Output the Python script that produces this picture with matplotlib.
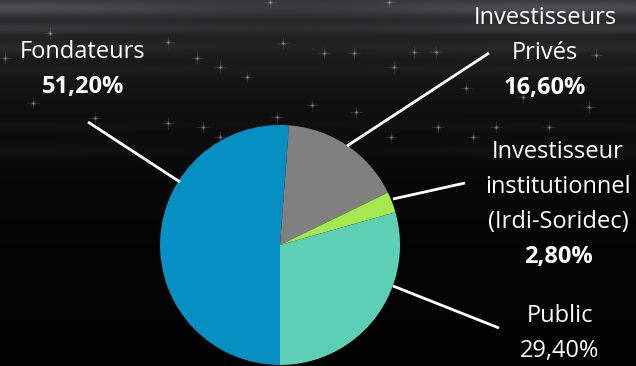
import numpy as np
import matplotlib.pyplot as plt

plt.rcParams['font.family'] = ['Open Sans', 'DejaVu Sans']

# capital split (percent)
categories = ['Fondateurs', 'Investisseurs\nPrivés',
              'Investisseur\ninstitutionnel\n(Irdi-Soridec)', 'Public']
shares = [51.20, 16.60, 2.80, 29.40]
share_labels = ['51,20%', '16,60%', '2,80%', '29,40%']
bold_share = [True, True, True, False]
colors = ['#068fc3', '#808080', '#a6e84f', '#5ccfb4']

W, H = 636, 366
fig = plt.figure(figsize=(W / 100, H / 100), dpi=100)
ax = fig.add_axes([0, 0, 1, 1])

# dark backdrop: grey streaks at the top fading to black
yy = np.arange(H)[:, None]
xx = np.arange(W)[None, :]
lum = 0.15 * np.exp(-yy / 70.0) + 0.05 * np.exp(-yy / 200.0)
for yc, amp, wd in [(8, 0.12, 7), (28, 0.08, 5), (48, 0.05, 6), (70, 0.03, 6),
                    (125, 0.02, 5), (150, 0.025, 8)]:
    lum = lum + amp * np.exp(-((yy - yc) / wd) ** 2) * (0.7 + 0.3 * np.cos(xx / 90.0))
lum = np.clip(lum, 0, 1) * np.ones((1, W))
bg = np.dstack([lum, lum, lum * 1.03])
ax.imshow(np.clip(bg, 0, 1), extent=[0, W, 0, H], origin='upper', zorder=0,
          interpolation='bilinear', aspect='auto')

# sparkles
stars = [(50, 33), (168, 42), (283, 43), (5, 58), (197, 58), (220, 67), (247, 77),
         (312, 105), (33, 103), (95, 118), (168, 123), (203, 127), (220, 137),
         (277, 117), (270, 2), (389, 2), (324, 53), (354, 53), (414, 52), (436, 52),
         (394, 67), (466, 88), (356, 112), (438, 127), (391, 137), (473, 137),
         (496, 127), (549, 127), (589, 107), (596, 55), (523, 97)]
sx = np.array([s[0] for s in stars])
sy = H - np.array([s[1] for s in stars])
ax.scatter(sx, sy, s=80, marker='+', color='white', alpha=0.12, linewidths=0.6, zorder=1)
ax.scatter(sx, sy, s=16, color='white', alpha=0.07, linewidths=0, zorder=1)
ax.scatter(sx, sy, s=3, color='white', alpha=0.35, linewidths=0, zorder=1)

# pie starts at 6 o'clock and runs clockwise
cx, cy, r = 280, H - 245, 120
ax.pie(shares, colors=colors, startangle=270, counterclock=False,
       center=(cx, cy), radius=r, wedgeprops=dict(linewidth=0), frame=True)

# label blocks (text centre x, first-line y) and leader lines (pixel coords)
label_pos = [(83, 52), (545, 18), (558, 152), (560, 316)]
leaders = [((88, 122), (180, 182)), ((489, 53), (347, 146)),
           ((465, 183), (393, 199)), ((499, 328), (393, 286))]
line_h = 35
for cat, pct, bold, (lx, ly), (p0, p1) in zip(categories, share_labels, bold_share,
                                               label_pos, leaders):
    lines = cat.split('\n')
    for i, t in enumerate(lines):
        ax.text(lx, H - (ly + i * line_h), t, color='white', fontsize=17,
                ha='center', va='center', zorder=4)
    ax.text(lx, H - (ly + len(lines) * line_h), pct, color='white', fontsize=17,
            fontweight='bold' if bold else 'normal', ha='center', va='center', zorder=4)
    ax.plot([p0[0], p1[0]], [H - p0[1], H - p1[1]], color='white', lw=2.0,
            solid_capstyle='butt', zorder=3)

ax.set_xlim(0, W)
ax.set_ylim(0, H)
ax.set_aspect('auto')
ax.axis('off')

fig.savefig('out.png', dpi=100, facecolor='black')
